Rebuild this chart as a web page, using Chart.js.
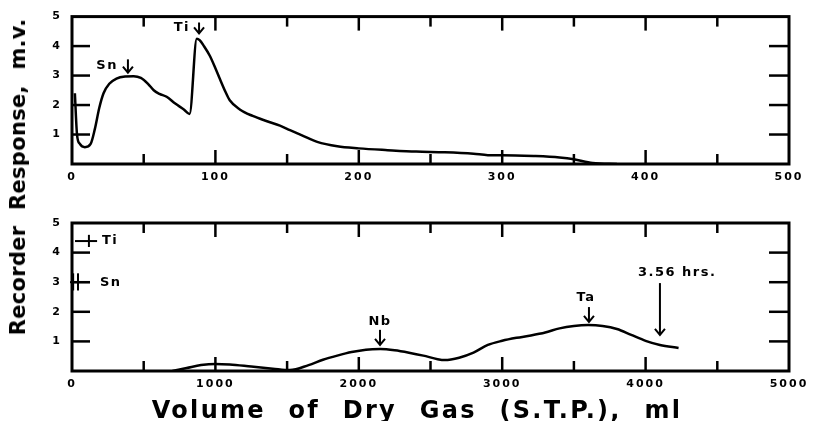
<!DOCTYPE html>
<html>
<head>
<meta charset="utf-8">
<script src="https://cdn.jsdelivr.net/npm/chart.js@4.4.1/dist/chart.umd.min.js"></script>
<style>
  body { margin: 0; background: #fff; }
  #wrap { position: relative; width: 814px; height: 421px; overflow: hidden; }
  canvas { position: absolute; left: 0; }
  #top { top: 0; }
  #bot { top: 195px; }
  .title { position: absolute; white-space: nowrap; color: #000; font-family: 'DejaVu Sans', sans-serif; }
  #ytitle { left: 18px; top: 177px; transform: translate(-50%, -50%) rotate(-90deg);
            font-size: 21px; font-weight: bold; letter-spacing: 0.3px; word-spacing: 8px; }
  #xtitle { left: 417px; top: 410px; transform: translate(-50%, -50%);
            font-size: 24px; font-weight: bold; letter-spacing: 2.3px; word-spacing: 12px; }
</style>
</head>
<body>
<div id="wrap">
  <canvas id="top" width="814" height="195"></canvas>
  <canvas id="bot" width="814" height="226"></canvas>
  <div class="title" id="ytitle">Recorder Response, m.v.</div>
  <div class="title" id="xtitle">Volume of Dry Gas (S.T.P.), ml</div>
</div>
<script>
// top trace: first 500 ml
const topVol  = [2, 3.5, 5.5, 9, 13, 16, 19, 22, 26, 31, 37, 43, 48, 53, 57, 61, 66, 72, 78, 82,
                 87, 89, 92, 96, 100, 103, 107, 110, 117, 126, 136, 145, 152, 160, 171, 185, 200,
                 220, 240, 260, 280, 290, 300, 322, 340, 350, 363, 380];
const topResp = [2.4, 1.0, 0.68, 0.57, 0.68, 1.2, 1.9, 2.4, 2.72, 2.9, 2.97, 2.98, 2.92, 2.72, 2.5, 2.38, 2.28, 2.05, 1.85, 1.7,
                 4.25, 4.2, 4.0, 3.68, 3.25, 2.9, 2.45, 2.16, 1.85, 1.63, 1.45, 1.3, 1.15, 0.98, 0.75, 0.6, 0.53,
                 0.47, 0.42, 0.4, 0.35, 0.3, 0.3, 0.27, 0.22, 0.16, 0.03, 0.0];

// bottom trace: whole run
const botVol  = [700, 800, 900, 1000, 1100, 1250, 1400, 1520, 1650, 1750, 1850, 1950, 2050, 2150, 2250,
                 2350, 2450, 2550, 2600, 2700, 2800, 2900, 3000, 3100, 3200, 3300, 3400, 3500, 3600,
                 3700, 3800, 3900, 4000, 4100, 4230];
const botResp = [0, 0.1, 0.2, 0.24, 0.22, 0.15, 0.08, 0.03, 0.2, 0.38, 0.52, 0.64, 0.72, 0.74, 0.7,
                 0.62, 0.52, 0.4, 0.37, 0.45, 0.62, 0.88, 1.02, 1.12, 1.2, 1.3, 1.44, 1.52, 1.55,
                 1.52, 1.42, 1.22, 1.02, 0.88, 0.78];

const topXLabels = [0, 100, 200, 300, 400, 500];
const botXLabels = [0, 1000, 2000, 3000, 4000, 5000];
const yLabels = [1, 2, 3, 4, 5];

// peak labels, in data units: text spot and arrow (x, from, to)
const topNotes = [
  { text: 'Sn', tx: 32, ty: 3.35, align: 'right', ax: 39, ay0: 3.55, ay1: 3.1 },
  { text: 'Ti', tx: 82.3, ty: 4.63, align: 'right', ax: 88.6, ay0: 4.8, ay1: 4.43 }
];
const botNotes = [
  { text: 'Nb', tx: 2148, ty: 1.66, align: 'center', ax: 2148, ay0: 1.39, ay1: 0.88 },
  { text: 'Ta', tx: 3585, ty: 2.47, align: 'center', ax: 3605, ay0: 2.16, ay1: 1.66 },
  { text: '3.56 hrs.', tx: 3947, ty: 3.34, align: 'left', ax: 4100, ay0: 2.97, ay1: 1.22 },
  { text: 'Ti', tx: 209, ty: 4.39, align: 'left' },
  { text: 'Sn', tx: 195, ty: 3.0, align: 'left' }
];
// scale markers at left of bottom panel: [x0, y0, x1, y1]
const botMarks = [
  [21, 4.39, 175, 4.39], [118, 4.6, 118, 4.19],
  [-14, 3.0, 125, 3.0], [8, 3.3, 8, 2.72], [42, 3.3, 42, 2.72]
];

const frameTicks = {
  id: 'frameTicks',
  beforeDraw(chart) { chart.ctx.letterSpacing = '2px'; },
  afterDatasetsDraw(chart, args, opts) {
    const { ctx, chartArea: a, scales: { x, y } } = chart;
    ctx.save();
    ctx.strokeStyle = '#000';
    ctx.lineCap = 'butt';
    const seg = (x0, y0, x1, y1) => { ctx.beginPath(); ctx.moveTo(x0, y0); ctx.lineTo(x1, y1); ctx.stroke(); };
    ctx.lineWidth = 2.5;
    x.ticks.forEach(t => {
      if (t.value <= x.min || t.value >= x.max) return;
      const px = x.getPixelForValue(t.value);
      const len = t.value % opts.major === 0 ? 14 : 10;
      seg(px, a.bottom, px, a.bottom - len);
      seg(px, a.top, px, a.top + len);
    });
    y.ticks.forEach(t => {
      if (t.value <= y.min || t.value >= y.max) return;
      const py = y.getPixelForValue(t.value);
      seg(a.left, py, a.left + 18, py);
      seg(a.right, py, a.right - 20, py);
    });
    ctx.lineWidth = 3;
    ctx.strokeRect(a.left, a.top, a.width, a.height);

    // notes and arrows
    ctx.fillStyle = '#000';
    ctx.letterSpacing = '1.5px';
    ctx.font = 'bold 13px "DejaVu Sans"';
    ctx.textBaseline = 'middle';
    ctx.lineWidth = 2;
    (opts.notes || []).forEach(n => {
      ctx.textAlign = n.align;
      ctx.fillText(n.text, x.getPixelForValue(n.tx), y.getPixelForValue(n.ty));
      if (n.ax === undefined) return;
      const px = x.getPixelForValue(n.ax);
      const p0 = y.getPixelForValue(n.ay0), p1 = y.getPixelForValue(n.ay1);
      seg(px, p0, px, p1);
      ctx.beginPath();
      ctx.moveTo(px - 5, p1 - 6); ctx.lineTo(px, p1); ctx.lineTo(px + 5, p1 - 6);
      ctx.stroke();
    });
    (opts.marks || []).forEach(m => {
      seg(x.getPixelForValue(m[0]), y.getPixelForValue(m[1]), x.getPixelForValue(m[2]), y.getPixelForValue(m[3]));
    });
    ctx.restore();
  }
};

function makeChart(id, vol, resp, xMax, step, xLabels, pad, xHeight, notes, marks) {
  const tickFont = { family: 'DejaVu Sans', size: 11, weight: 'bold' };
  return new Chart(document.getElementById(id), {
    type: 'line',
    data: {
      datasets: [{
        data: vol.map((v, i) => ({ x: v, y: resp[i] })),
        borderColor: '#000',
        borderWidth: 2.5,
        pointRadius: 0,
        cubicInterpolationMode: 'monotone',
        fill: false
      }]
    },
    options: {
      responsive: false,
      animation: false,
      layout: { padding: { left: 0, right: 25, top: pad, bottom: 0 } },
      plugins: {
        legend: { display: false },
        tooltip: { enabled: false },
        frameTicks: { major: step * 2, notes: notes, marks: marks }
      },
      scales: {
        x: {
          type: 'linear', min: 0, max: xMax,
          grid: { display: false, drawTicks: false },
          border: { display: false },
          ticks: {
            stepSize: step, autoSkip: false, maxRotation: 0, padding: 7,
            color: '#000', font: tickFont,
            callback: v => xLabels.includes(v) ? v : ''
          },
          afterFit: s => { s.height = xHeight; }
        },
        y: {
          min: 0, max: 5,
          grid: { display: false, drawTicks: false },
          border: { display: false },
          ticks: {
            stepSize: 1, padding: 10, color: '#000', font: tickFont,
            callback: v => yLabels.includes(v) ? v : ''
          },
          afterFit: s => { s.width = 72; }
        }
      }
    },
    plugins: [frameTicks]
  });
}

makeChart('top', topVol, topResp, 500, 50, topXLabels, 16, 31, topNotes, []);
makeChart('bot', botVol, botResp, 5000, 500, botXLabels, 28, 50, botNotes, botMarks);
</script>
</body>
</html>
